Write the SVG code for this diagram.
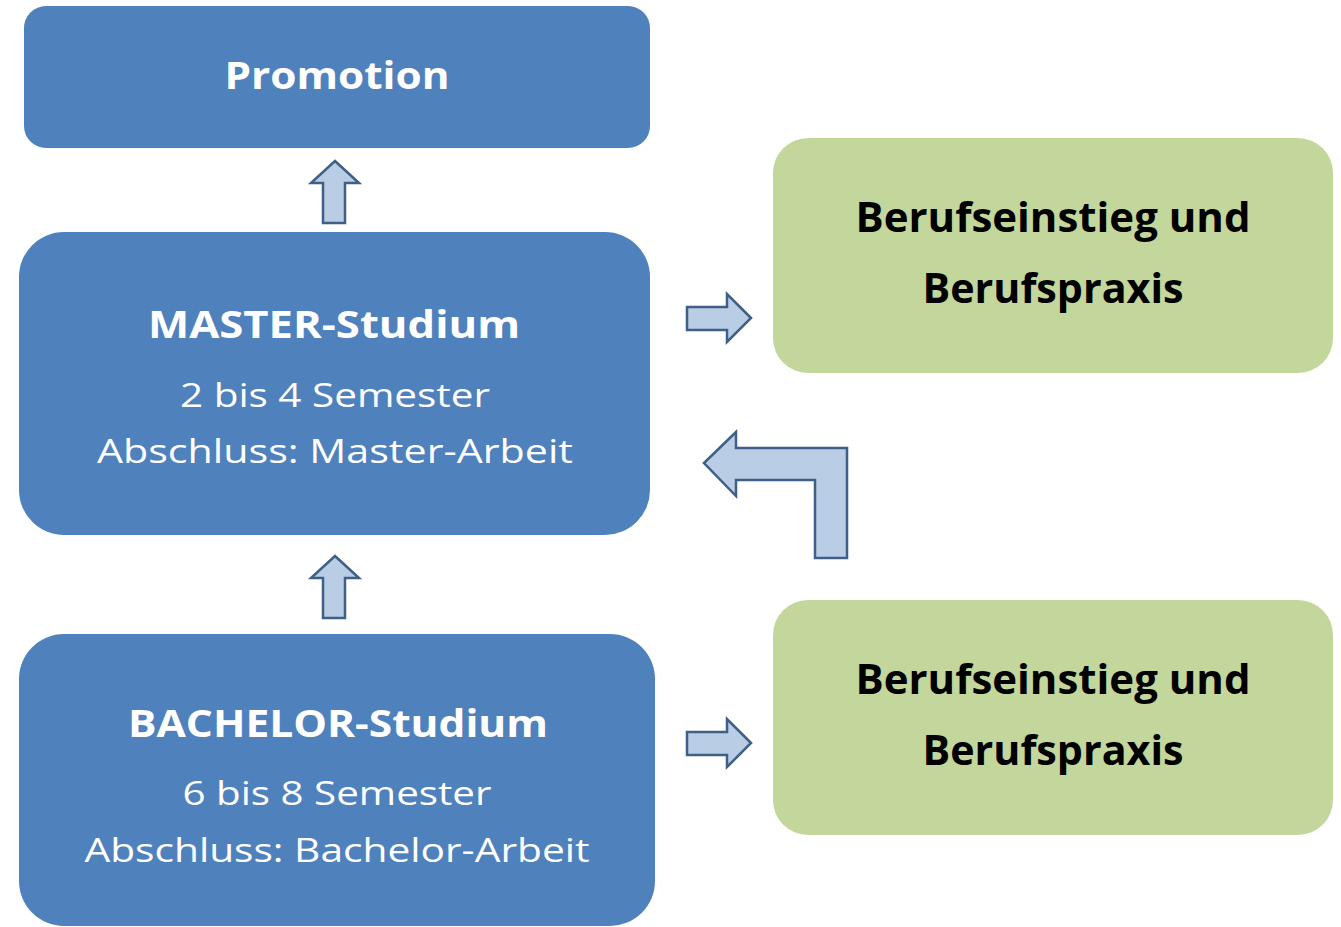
<svg xmlns="http://www.w3.org/2000/svg" width="1341" height="927" viewBox="0 0 1341 927">
<style>
.blue{fill:#4f81bd}
.green{fill:#c3d69b}
.arr{fill:#b9cde5;stroke:#3f5f88;stroke-width:2.5;stroke-linejoin:miter}
.wb{font-family:"Open Sans",sans-serif;font-weight:bold;fill:#fff;text-anchor:middle}
.wr{font-family:"Open Sans",sans-serif;fill:#fff;text-anchor:middle}
.kb{font-family:"Open Sans",sans-serif;font-weight:bold;fill:#000;text-anchor:middle}
</style>
<rect width="1341" height="927" fill="#fff"/>
<g id="promotion">
<rect class="blue" x="24" y="6" width="626" height="142" rx="22"/>
<text class="wb" x="337" y="89" font-size="37" textLength="225" lengthAdjust="spacingAndGlyphs">Promotion</text>
</g>
<g id="master">
<rect class="blue" x="19" y="232" width="631" height="303" rx="45"/>
<text class="wb" x="334" y="338" font-size="38" textLength="372" lengthAdjust="spacingAndGlyphs">MASTER-Studium</text>
<text class="wr" x="335" y="407" font-size="33" textLength="310" lengthAdjust="spacingAndGlyphs">2 bis 4 Semester</text>
<text class="wr" x="335" y="463" font-size="33" textLength="476" lengthAdjust="spacingAndGlyphs">Abschluss: Master-Arbeit</text>
</g>
<g id="bachelor">
<rect class="blue" x="19" y="634" width="636" height="292" rx="45"/>
<text class="wb" x="338" y="737" font-size="38" textLength="420" lengthAdjust="spacingAndGlyphs">BACHELOR-Studium</text>
<text class="wr" x="337" y="805" font-size="33" textLength="309" lengthAdjust="spacingAndGlyphs">6 bis 8 Semester</text>
<text class="wr" x="337" y="862" font-size="33" textLength="505" lengthAdjust="spacingAndGlyphs">Abschluss: Bachelor-Arbeit</text>
</g>
<g id="beruf1">
<rect class="green" x="773" y="138" width="560" height="235" rx="35"/>
<text class="kb" x="1053" y="232" font-size="42" textLength="395" lengthAdjust="spacingAndGlyphs">Berufseinstieg und</text>
<text class="kb" x="1053" y="303" font-size="42" textLength="261" lengthAdjust="spacingAndGlyphs">Berufspraxis</text>
</g>
<g id="beruf2">
<rect class="green" x="773" y="600" width="560" height="235" rx="35"/>
<text class="kb" x="1053" y="694" font-size="42" textLength="395" lengthAdjust="spacingAndGlyphs">Berufseinstieg und</text>
<text class="kb" x="1053" y="765" font-size="42" textLength="261" lengthAdjust="spacingAndGlyphs">Berufspraxis</text>
</g>
<g id="connectors">
<path class="arr" d="M335,161 L359,183 L345,183 L345,223 L323,223 L323,183 L311,183 Z"/>
<path class="arr" d="M335,556 L359,578 L345,578 L345,618 L323,618 L323,578 L311,578 Z"/>
<path class="arr" d="M751,318 L727,294 L727,307 L687,307 L687,330 L727,330 L727,342 Z"/>
<path class="arr" d="M751,743 L727,719 L727,732 L687,732 L687,755 L727,755 L727,767 Z"/>
<path class="arr" d="M704,463 L736,432 L736,448 L847,448 L847,558 L815,558 L815,480 L736,480 L736,496 Z"/>
</g>
</svg>
